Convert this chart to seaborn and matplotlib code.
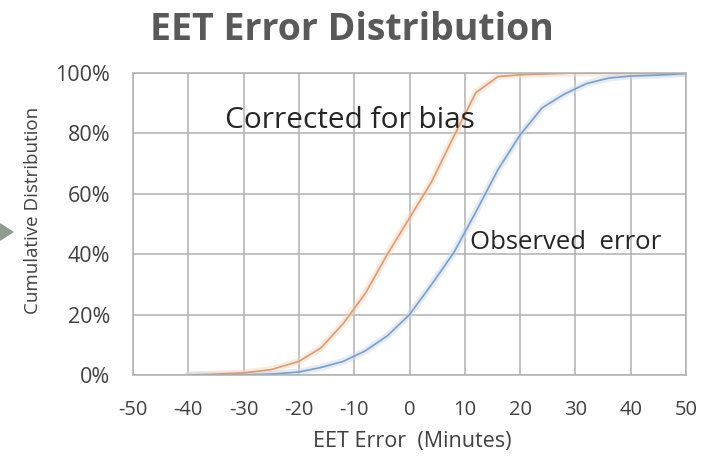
import matplotlib
matplotlib.use("Agg")
import matplotlib.pyplot as plt
import seaborn as sns
import pandas as pd
from matplotlib.patches import Polygon

# Data
corrected_x = [-40, -35, -30, -25, -20, -16, -12, -8, -4, 0, 4, 8, 12, 16, 20, 25, 30, 35, 40, 45, 50]
corrected_y = [0.0, 0.3, 0.7, 1.8, 4.5, 9.0, 17.0, 27.0, 40.0, 52.0, 64.0, 79.0, 93.5, 98.8, 99.4, 99.7, 100, 100, 100, 100, 100]
observed_x = [-40, -35, -30, -25, -20, -16, -12, -8, -4, 0, 4, 8, 12, 16, 20, 24, 28, 32, 36, 40, 45, 50]
observed_y = [0.0, 0.0, 0.1, 0.3, 1.0, 2.5, 4.5, 8.0, 13.0, 20.0, 30.0, 40.5, 54.0, 68.0, 79.5, 88.5, 93.0, 96.5, 98.3, 99.0, 99.3, 99.8]
x_ticks = [-50, -40, -30, -20, -10, 0, 10, 20, 30, 40, 50]
y_ticks = [0, 20, 40, 60, 80, 100]
y_tick_labels = ["0%", "20%", "40%", "60%", "80%", "100%"]

sns.set_theme(style="whitegrid")
plt.rcParams['font.family'] = ['Open Sans', 'DejaVu Sans']

fig = plt.figure(figsize=(7.02, 4.57), dpi=100)
ax = fig.add_axes([0.1895, 0.1794, 0.7877, 0.6609])

df_c = pd.DataFrame({"x": corrected_x, "y": corrected_y})
df_o = pd.DataFrame({"x": observed_x, "y": observed_y})

# soft glow
sns.lineplot(data=df_c, x="x", y="y", ax=ax, color="#f7d8c0", linewidth=5, alpha=0.5)
sns.lineplot(data=df_o, x="x", y="y", ax=ax, color="#c9d9ec", linewidth=5, alpha=0.5)
sns.lineplot(data=df_c, x="x", y="y", ax=ax, color="#dd9a70", linewidth=1.2)
sns.lineplot(data=df_o, x="x", y="y", ax=ax, color="#7c9dc8", linewidth=1.2)

ax.set_xlim(-50, 50)
ax.set_ylim(0, 100)
ax.set_xticks(x_ticks)
ax.set_xticklabels([str(t) for t in x_ticks])
ax.set_yticks(y_ticks)
ax.set_yticklabels(y_tick_labels)
ax.grid(True, color="#b0b0b0", linewidth=1.1)
for s in ax.spines.values():
    s.set_color("#b0b0b0")
    s.set_linewidth(1.1)
ax.tick_params(axis="y", labelsize=15.5, colors="#404040", length=0, pad=16.5)
ax.tick_params(axis="x", labelsize=14.5, colors="#404040", length=0, pad=18)
ax.set_xlabel("EET Error  (Minutes)", fontsize=15.5, color="#404040")
ax.set_ylabel("Cumulative Distribution", fontsize=13.5, color="#404040")
ax.xaxis.set_label_coords(0.505, -0.185)
ax.yaxis.set_label_coords(-0.165, 0.546)

ax.text(-33.4, 84.4, "Corrected for bias", fontsize=21.5, color="#262626", va="center", ha="left")
ax.text(10.9, 44.0, "Observed  error", fontsize=18.5, color="#262626", va="center", ha="left")

fig.text(0.502, 0.935, "EET Error Distribution", fontsize=27, fontweight="bold",
         color="#595959", ha="center", va="center")

# small grey arrow at left edge
tri = Polygon([[0, 1 - 223 / 457], [14 / 702, 1 - 232 / 457], [0, 1 - 241 / 457]],
              closed=True, transform=fig.transFigure, facecolor="#8d9b91", edgecolor="none")
fig.patches.append(tri)

fig.savefig("out.png", dpi=100)
